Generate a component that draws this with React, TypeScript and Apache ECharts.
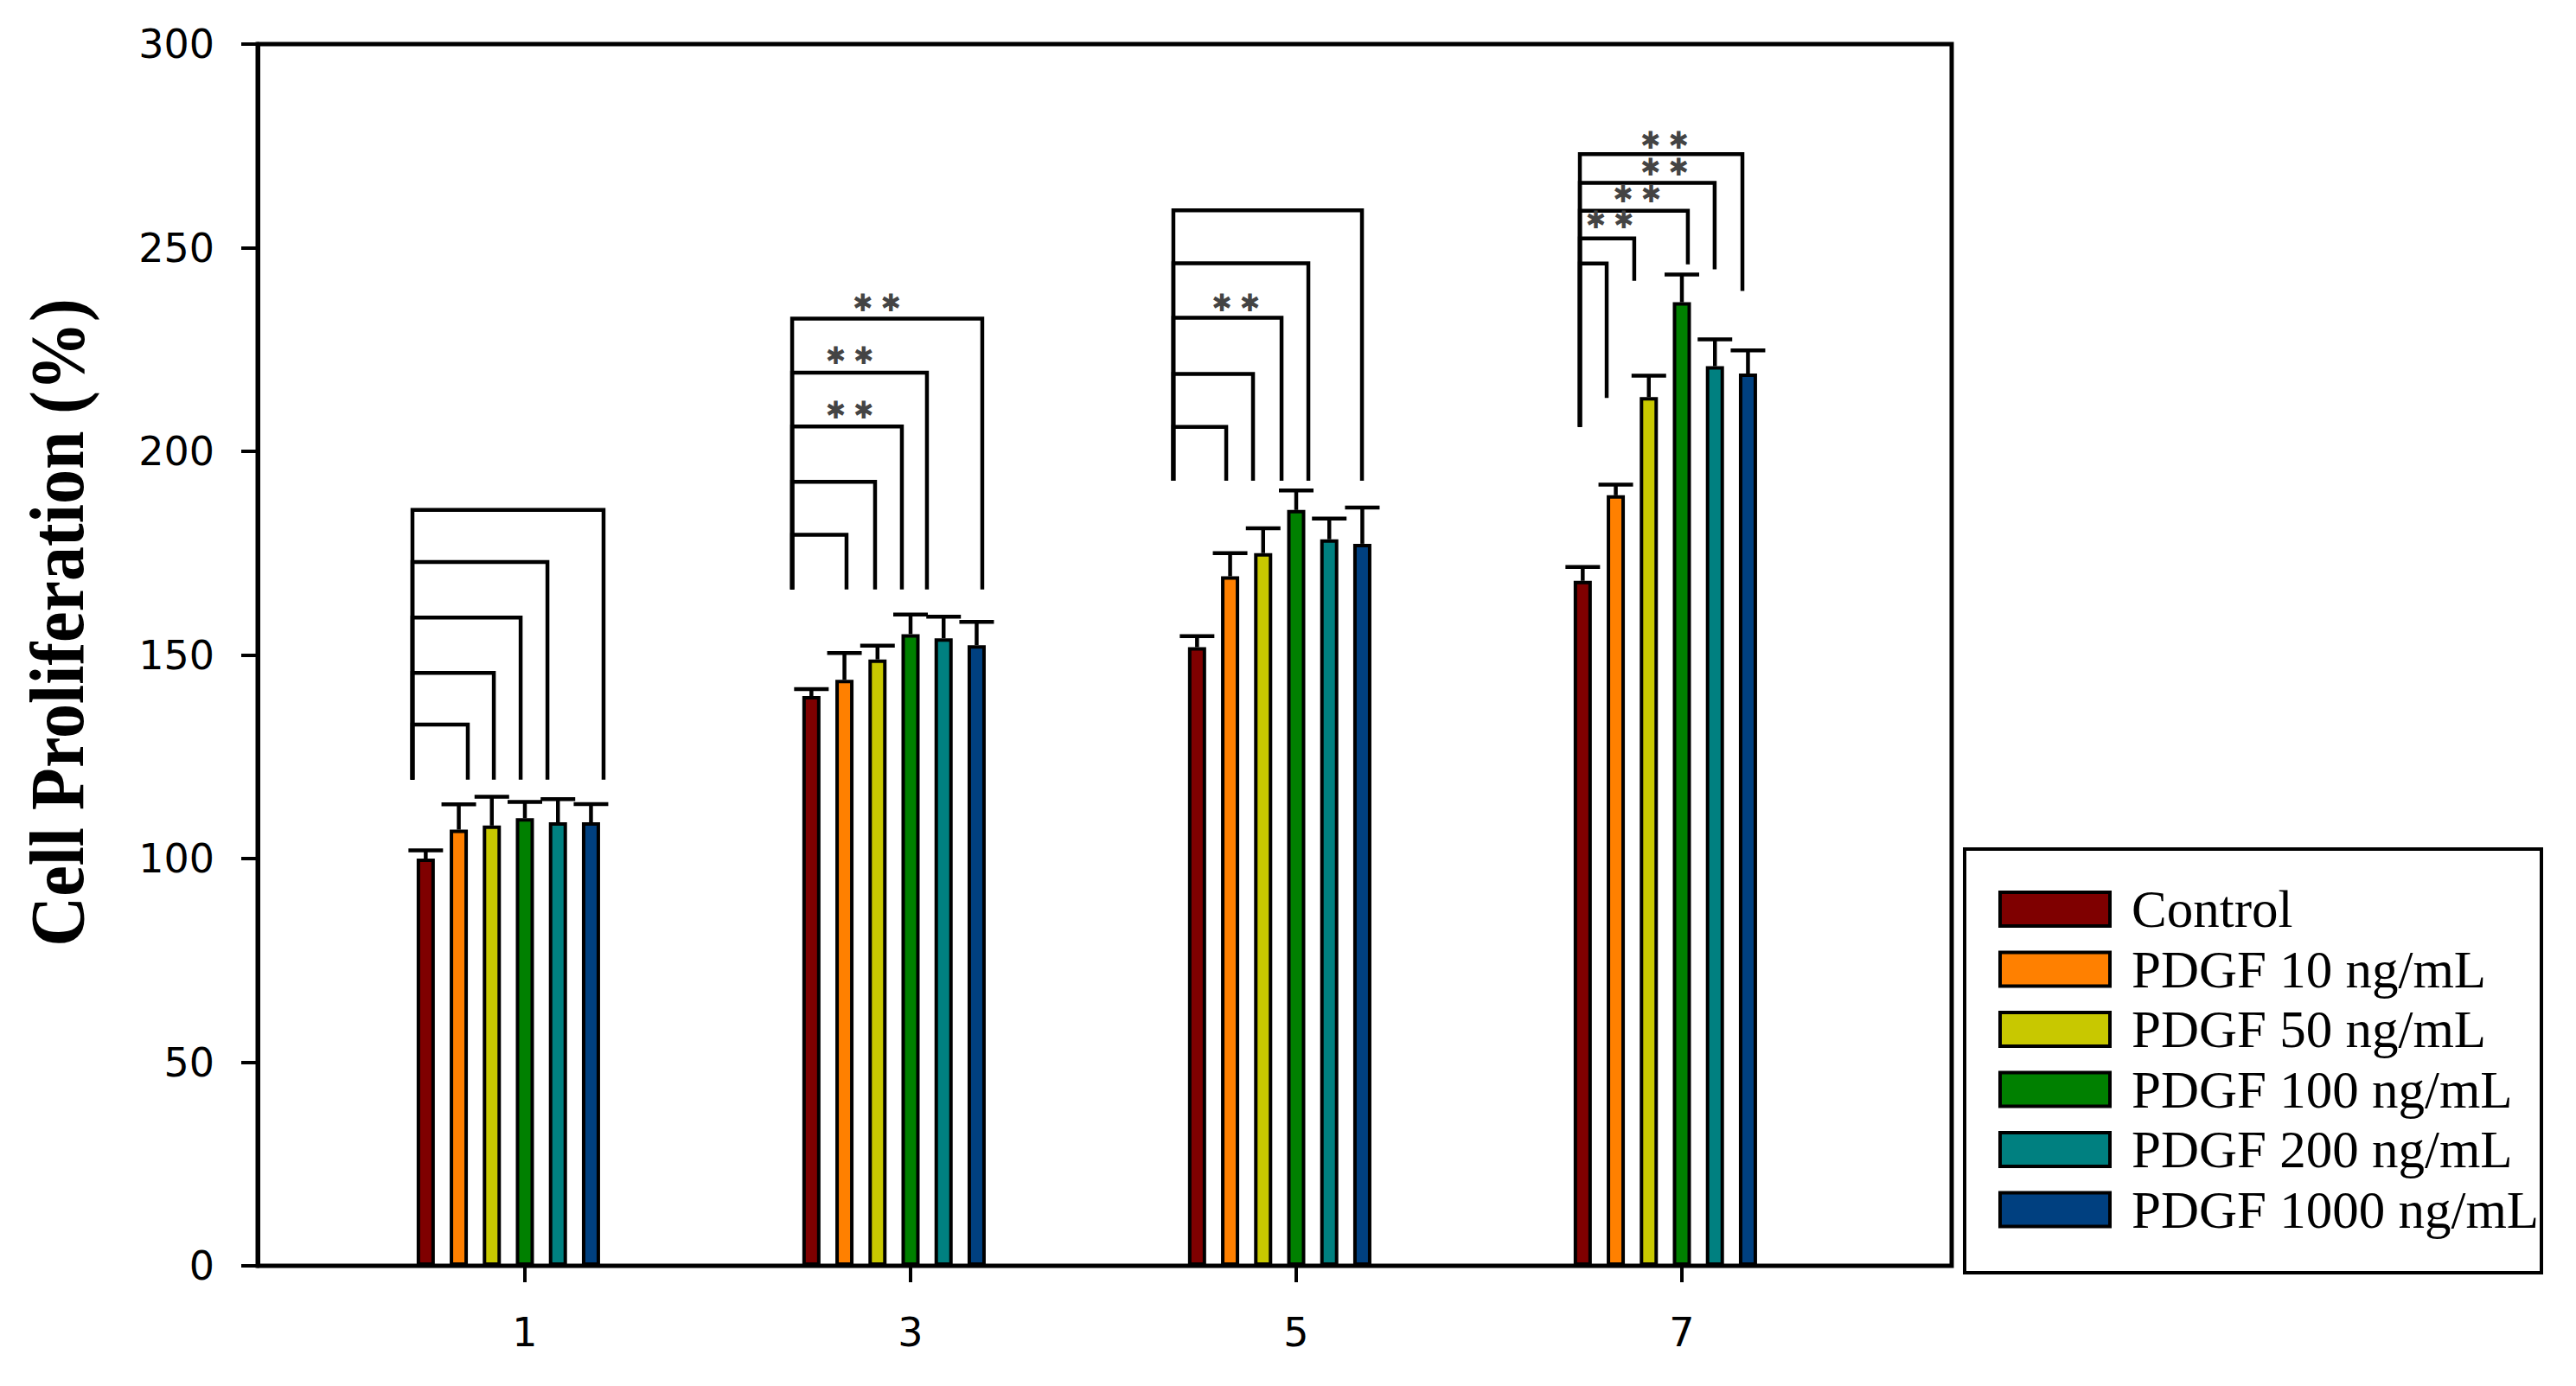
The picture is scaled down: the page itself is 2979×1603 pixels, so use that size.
import React, { useEffect, useRef } from 'react';
import * as echarts from 'echarts';

// ---------- data ----------
const days = ['1', '3', '5', '7'];
const seriesNames = ['Control', 'PDGF 10 ng/mL', 'PDGF 50 ng/mL', 'PDGF 100 ng/mL', 'PDGF 200 ng/mL', 'PDGF 1000 ng/mL'];
const seriesColors = ['#7f0000', '#ff8000', '#c8c800', '#008000', '#008080', '#004080'];

const control = [100.0, 139.9, 151.9, 168.2];
const pdgf10 = [107.1, 143.9, 169.3, 189.2];
const pdgf50 = [108.1, 148.9, 175.0, 213.3];
const pdgf100 = [109.9, 155.1, 185.6, 236.6];
const pdgf200 = [108.9, 154.1, 178.4, 220.9];
const pdgf1000 = [108.9, 152.4, 177.3, 219.1];

const controlErr = [2.0, 1.7, 2.7, 3.4];
const pdgf10Err = [6.2, 6.6, 5.7, 2.6];
const pdgf50Err = [7.1, 3.4, 6.1, 5.3];
const pdgf100Err = [4.0, 4.8, 4.8, 6.8];
const pdgf200Err = [5.7, 5.3, 5.1, 6.6];
const pdgf1000Err = [4.5, 5.7, 8.9, 5.7];

const yTicks = [0, 50, 100, 150, 200, 250, 300];

// significance brackets (x in day units, y in %)
const bracketLeftX = [0.417, 2.386, 4.363, 6.471];
const bracketBase = [119.4, 166.1, 192.8, 206.0];
const bracketRightX = [
  [0.704, 0.839, 0.978, 1.117, 1.408],
  [2.668, 2.816, 2.955, 3.085, 3.372],
  [4.637, 4.776, 4.924, 5.063, 5.341],
  [6.610, 6.753, 7.031, 7.170, 7.314],
];
const bracketLevel = [
  [132.9, 145.6, 159.2, 172.8, 185.6],
  [179.5, 192.5, 206.1, 219.3, 232.6],
  [206.0, 219.0, 232.8, 246.2, 259.2],
  [246.1, 252.3, 259.1, 265.9, 273.0],
];
const bracketRightBase = [
  [119.4, 119.4, 119.4, 119.4, 119.4],
  [166.1, 166.1, 166.1, 166.1, 166.1],
  [192.8, 192.8, 192.8, 192.8, 192.8],
  [213.1, 241.9, 245.9, 244.7, 239.4],
];
const starX = [2.684, 2.684, 2.825, 4.687, 6.626, 6.768, 6.910, 6.910];
const starY = [210.0, 223.4, 236.5, 236.4, 256.7, 263.1, 269.7, 276.4];
const starLabel = '\u2731 \u2731';

// ---------- style constants ----------
const BAR_W = 21;
const BAR_GAP = 0.82;
const PITCH = BAR_W * (1 + BAR_GAP);
const MID_SLOT = 3;
const CAP_HALF = 20;
const LINE_W = 4.5;

export default function App() {
  const ref = useRef<HTMLDivElement>(null);

  useEffect(() => {
    if (!ref.current) return;
    const chart = echarts.init(ref.current, undefined, { renderer: 'svg' });

    const means = [control, pdgf10, pdgf50, pdgf100, pdgf200, pdgf1000];
    const errs = [controlErr, pdgf10Err, pdgf50Err, pdgf100Err, pdgf200Err, pdgf1000Err];

    const errorData: number[][] = [];
    means.forEach((arr, s) => arr.forEach((m, d) => errorData.push([d, m, errs[s][d], s])));

    const bracketData: number[][] = [];
    bracketLeftX.forEach((lx, g) =>
      bracketRightX[g].forEach((rx, k) =>
        bracketData.push([lx, bracketBase[g], bracketLevel[g][k], rx, bracketRightBase[g][k]])
      )
    );
    const starData = starX.map((x, i) => [x, starY[i]]);

    const barSeries: any[] = means.map((data, i) => ({
      type: 'bar',
      name: seriesNames[i],
      xAxisIndex: 0,
      yAxisIndex: 0,
      data,
      barWidth: BAR_W,
      barGap: BAR_GAP * 100 + '%',
      itemStyle: { color: seriesColors[i], borderColor: '#000', borderWidth: 4 },
      z: 2,
    }));
    barSeries.push({
      type: 'bar',
      name: 'pad',
      xAxisIndex: 0,
      yAxisIndex: 0,
      data: days.map(() => null),
      barWidth: BAR_W,
      barGap: BAR_GAP * 100 + '%',
    });

    const option: any = {
      animation: false,
      backgroundColor: '#fff',
      grid: [
        { left: 384, top: 51, width: 1784, height: 1413 },
        {
          left: 298, top: 51, width: 1959, height: 1413,
          show: true, borderColor: '#000', borderWidth: 5, backgroundColor: 'transparent',
        },
      ],
      xAxis: [
        {
          type: 'category',
          gridIndex: 0,
          data: days,
          axisLine: { show: false },
          axisTick: { show: true, alignWithLabel: true, length: 19, lineStyle: { color: '#000', width: 4 } },
          axisLabel: { margin: 54, fontSize: 46, fontFamily: 'DejaVu Sans', color: '#000' },
          splitLine: { show: false },
        },
        { type: 'value', gridIndex: 0, min: 0, max: 8, show: false },
        { type: 'value', gridIndex: 1, min: 0, max: 1, show: false },
      ],
      yAxis: [
        { type: 'value', gridIndex: 0, min: yTicks[0], max: yTicks[yTicks.length - 1], show: false },
        {
          type: 'value',
          gridIndex: 1,
          min: yTicks[0],
          max: yTicks[yTicks.length - 1],
          interval: yTicks[1] - yTicks[0],
          axisLine: { show: true, lineStyle: { color: '#000', width: 5 } },
          axisTick: { show: true, length: 19, lineStyle: { color: '#000', width: 4 } },
          axisLabel: { margin: 50, fontSize: 46, fontFamily: 'DejaVu Sans', color: '#000' },
          splitLine: { show: false },
        },
      ],
      legend: {
        data: seriesNames,
        orient: 'vertical',
        left: 2311,
        top: 1021,
        padding: 0,
        itemWidth: 127,
        itemHeight: 39,
        itemGap: 8.5,
        icon: 'rect',
        selectedMode: false,
        itemStyle: { borderColor: '#000', borderWidth: 4 },
        textStyle: {
          fontFamily: 'Liberation Serif',
          fontSize: 61,
          color: '#000',
          padding: [0, 0, 0, 20],
        },
      },
      graphic: [
        {
          type: 'text',
          x: 66,
          y: 720,
          rotation: Math.PI / 2,
          scaleY: 1.1,
          style: {
            text: 'Cell Proliferation (%)',
            fontFamily: 'Liberation Serif',
            fontWeight: 'bold',
            fontSize: 80,
            fill: '#000',
            align: 'center',
            verticalAlign: 'middle',
          },
        },
        {
          type: 'rect',
          shape: { x: 2272, y: 982, width: 667, height: 490 },
          style: { fill: 'none', stroke: '#000', lineWidth: 4 },
        },
      ],
      series: [
        ...barSeries,
        {
          type: 'custom',
          name: 'errors',
          xAxisIndex: 0,
          yAxisIndex: 0,
          data: errorData,
          encode: { x: 0, y: 1 },
          z: 3,
          renderItem: (params: any, api: any) => {
            const d = api.value(0);
            const m = api.value(1);
            const e = api.value(2);
            const s = api.value(3);
            const b = api.coord([d, m]);
            const t = api.coord([d, m + e]);
            const x = b[0] + (s - MID_SLOT) * PITCH;
            return {
              type: 'group',
              children: [
                { type: 'line', shape: { x1: x, y1: b[1], x2: x, y2: t[1] }, style: { stroke: '#000', lineWidth: LINE_W } },
                { type: 'line', shape: { x1: x - CAP_HALF, y1: t[1], x2: x + CAP_HALF, y2: t[1] }, style: { stroke: '#000', lineWidth: LINE_W } },
              ],
            };
          },
        },
        {
          type: 'custom',
          name: 'brackets',
          xAxisIndex: 1,
          yAxisIndex: 0,
          data: bracketData,
          encode: { x: [0, 3], y: [1, 2, 4] },
          z: 3,
          renderItem: (params: any, api: any) => {
            const l = api.coord([api.value(0), api.value(1)]);
            const lt = api.coord([api.value(0), api.value(2)]);
            const rt = api.coord([api.value(3), api.value(2)]);
            const r = api.coord([api.value(3), api.value(4)]);
            return {
              type: 'polyline',
              shape: { points: [l, lt, rt, r] },
              style: { stroke: '#000', lineWidth: LINE_W, fill: null, lineJoin: 'miter' },
            };
          },
        },
        {
          type: 'custom',
          name: 'stars',
          xAxisIndex: 1,
          yAxisIndex: 0,
          data: starData,
          encode: { x: 0, y: 1 },
          z: 3,
          renderItem: (params: any, api: any) => {
            const p = api.coord([api.value(0), api.value(1)]);
            return {
              type: 'text',
              x: p[0],
              y: p[1],
              style: {
                text: starLabel,
                fontSize: 28,
                fontFamily: 'DejaVu Sans',
                fill: '#444',
                align: 'center',
                verticalAlign: 'middle',
              },
            };
          },
        },
      ],
    };

    chart.setOption(option);
    return () => chart.dispose();
  }, []);

  return (
    <div
      ref={ref}
      style={{ position: 'absolute', left: 0, top: 0, width: 2979, height: 1603 }}
    />
  );
}
